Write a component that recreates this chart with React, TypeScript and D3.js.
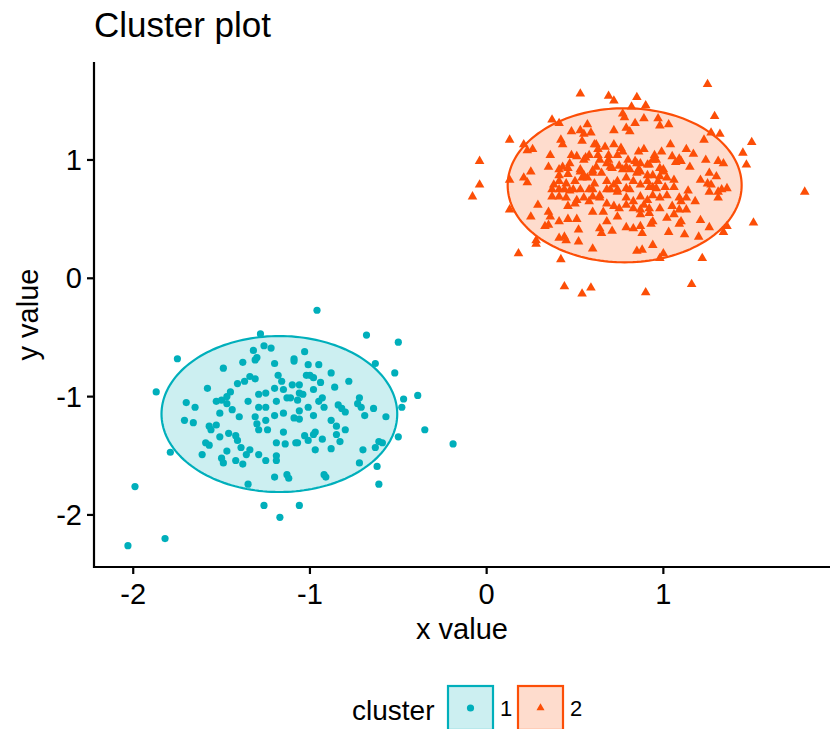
import React from 'react';
import * as d3 from 'd3';

// axis setup
const xTicks = [-2, -1, 0, 1];
const yTicks = [-2, -1, 0, 1];
const xDomain = [-2.222, 1.943];
const yDomain = [-2.44, 1.828];

const clusterNames = ['1', '2'];
const clusterColors = ['#00AFBB', '#FC4E07'];

// cluster 1 (circles)
const cluster1: [number, number][] = [
  [-1.28, -0.47], [-1.75, -0.68], [-1.87, -0.96], [-1.32, -0.61], [-1.26, -0.57], [-1.22, -0.59], [-1.30, -0.67],
  [-1.31, -0.69], [-1.38, -0.71], [-1.20, -0.72], [-1.49, -0.76], [-1.18, -0.82], [-1.16, -0.87], [-1.34, -0.83],
  [-1.31, -0.85], [-1.37, -0.87], [-1.41, -0.89], [-1.58, -0.93], [-1.45, -0.96], [-1.47, -1.00], [-1.29, -0.98],
  [-1.25, -0.97], [-1.20, -0.93], [-1.15, -0.94], [-1.70, -1.05], [-1.65, -1.09], [-1.53, -1.04], [-1.50, -1.03],
  [-1.47, -1.06], [-1.35, -1.04], [-1.29, -1.09], [-1.25, -1.09], [-1.19, -1.04], [-1.13, -1.01], [-1.51, -1.14],
  [-1.44, -1.11], [-1.40, -1.17], [-1.31, -1.17], [-1.71, -1.20], [-1.66, -1.22], [-1.57, -1.25], [-1.53, -1.24],
  [-1.30, -1.23], [-1.25, -1.20], [-1.20, -1.16], [-1.15, -1.14],
  [-0.96, -0.27], [-0.68, -0.48], [-0.50, -0.54], [-1.03, -0.62], [-1.09, -0.68], [-1.09, -0.70], [-1.01, -0.73],
  [-0.95, -0.73], [-0.63, -0.72], [-0.88, -0.80], [-0.52, -0.80], [-1.02, -0.82], [-1.00, -0.82], [-0.98, -0.84],
  [-0.94, -0.88], [-0.78, -0.87], [-1.10, -0.90], [-1.06, -0.90], [-0.86, -0.92], [-0.98, -0.94], [-1.06, -0.97],
  [-1.04, -0.98], [-1.11, -1.01], [-1.07, -1.03], [-0.93, -1.01], [-0.95, -1.04], [-0.72, -1.01], [-0.73, -1.06],
  [-0.71, -1.09], [-0.39, -0.99], [-0.47, -1.02], [-0.48, -1.09], [-0.84, -1.07], [-0.82, -1.10], [-0.80, -1.13],
  [-0.92, -1.09], [-1.01, -1.09], [-0.64, -1.10], [-1.06, -1.12], [-0.98, -1.16], [-0.69, -1.16], [-0.57, -1.17],
  [-1.09, -1.18], [-1.06, -1.19], [-0.88, -1.20], [-0.85, -1.25], [-0.80, -1.28], [-0.35, -1.28],
  [-1.79, -1.47], [-1.99, -1.76], [-2.03, -2.26], [-1.82, -2.20], [-1.26, -1.92], [-1.17, -2.02], [-1.35, -1.74],
  [-1.20, -1.68], [-1.13, -1.66], [-1.12, -1.69], [-1.61, -1.49], [-1.59, -1.39], [-1.57, -1.41], [-1.47, -1.46],
  [-1.50, -1.52], [-1.49, -1.56], [-1.42, -1.54], [-1.38, -1.57], [-1.39, -1.43], [-1.36, -1.49], [-1.34, -1.45],
  [-1.29, -1.49], [-1.25, -1.54], [-1.19, -1.50], [-1.19, -1.54], [-1.19, -1.39], [-1.14, -1.40], [-1.51, -1.34],
  [-1.46, -1.31], [-1.42, -1.33], [-1.41, -1.37], [-1.56, -1.28], [-1.29, -1.28], [-1.24, -1.28], [-1.15, -1.30],
  [-1.06, -1.92], [-0.61, -1.74], [-0.62, -1.59], [-0.72, -1.56], [-0.70, -1.45], [-0.63, -1.43], [-0.61, -1.38],
  [-0.59, -1.39], [-0.50, -1.34], [-0.19, -1.40], [-0.92, -1.66], [-0.91, -1.68], [-0.97, -1.45], [-0.88, -1.44],
  [-0.93, -1.36], [-0.83, -1.38], [-0.85, -1.32], [-1.03, -1.33], [-1.01, -1.37], [-0.98, -1.32], [-0.97, -1.30],
  [-1.08, -1.39], [-1.07, -1.39],
];

// cluster 2 (triangles)
const cluster2: [number, number][] = [
  [0.53, 1.56], [0.69, 1.54], [0.72, 1.50], [0.85, 1.53], [0.82, 1.45], [0.77, 1.39], [0.78, 1.36], [0.37, 1.34],
  [0.41, 1.31], [0.13, 1.17], [-0.04, 0.99], [-0.04, 0.79], [-0.08, 0.69], [0.21, 1.13], [0.23, 1.08], [0.26, 1.09],
  [0.57, 1.30], [0.53, 1.25], [0.55, 1.22], [0.59, 1.23], [0.48, 1.24], [0.54, 1.16], [0.72, 1.25], [0.79, 1.27],
  [0.81, 1.24], [0.84, 1.31], [0.42, 1.17], [0.43, 1.13], [0.62, 1.13], [0.67, 1.11], [0.72, 1.13], [0.76, 1.10],
  [0.77, 1.07], [0.36, 1.04], [0.35, 0.94], [0.48, 1.04], [0.51, 1.03], [0.56, 1.02], [0.55, 1.00], [0.63, 1.04],
  [0.64, 1.00], [0.69, 1.04], [0.74, 1.04], [0.80, 1.00], [0.84, 0.99], [0.43, 0.94], [0.46, 0.93], [0.47, 0.97],
  [0.60, 0.91], [0.62, 0.94], [0.68, 0.97], [0.71, 0.93], [0.75, 0.95], [0.81, 0.92], [0.25, 0.90], [0.41, 0.87],
  [0.46, 0.88], [0.53, 0.90], [0.54, 0.85], [0.57, 0.85], [0.21, 0.85], [0.23, 0.81], [0.41, 0.82], [0.45, 0.80],
  [0.50, 0.82], [0.61, 0.80], [0.68, 0.82], [0.74, 0.82], [0.79, 0.85], [0.83, 0.82], [0.13, 0.83], [0.37, 0.75],
  [0.41, 0.75], [0.47, 0.74], [0.53, 0.75], [0.60, 0.75], [0.68, 0.75], [0.74, 0.75], [0.81, 0.75], [0.86, 0.92],
  [0.86, 1.07],
  [1.25, 1.64], [0.90, 1.46], [1.29, 1.37], [0.89, 1.35], [0.97, 1.35], [0.98, 1.29], [1.03, 1.30], [1.27, 1.23],
  [1.32, 1.22], [1.23, 1.17], [1.50, 1.15], [1.45, 1.06], [1.47, 0.96], [0.89, 1.09], [1.04, 1.13], [1.13, 1.09],
  [1.17, 1.05], [0.99, 1.07], [0.95, 1.04], [0.94, 1.00], [0.92, 0.96], [1.05, 1.03], [1.09, 1.01], [1.07, 0.98],
  [1.10, 0.99], [1.24, 1.00], [1.31, 0.99], [1.34, 0.97], [1.15, 0.94], [0.87, 0.97], [0.91, 0.96], [1.00, 0.92],
  [0.94, 0.87], [0.98, 0.86], [1.02, 0.85], [1.06, 0.83], [1.26, 0.89], [1.30, 0.86], [1.21, 0.83], [1.25, 0.80],
  [1.27, 0.79], [1.36, 0.76], [1.33, 0.75], [0.91, 0.82], [0.92, 0.77], [0.96, 0.76], [1.01, 0.77], [1.06, 0.77],
  [1.14, 0.74], [1.80, 0.73],
  [0.13, 0.58], [0.29, 0.62], [0.35, 0.56], [0.25, 0.52], [0.33, 0.44], [0.35, 0.45], [0.41, 0.48], [0.46, 0.50],
  [0.51, 0.50], [0.52, 0.41], [0.28, 0.32], [0.28, 0.29], [0.41, 0.34], [0.44, 0.35], [0.45, 0.32], [0.52, 0.31],
  [0.60, 0.25], [0.18, 0.21], [0.42, 0.16], [0.44, -0.07], [0.59, -0.08], [0.54, -0.13], [0.60, 0.56], [0.64, 0.42],
  [0.65, 0.38], [0.71, 0.40], [0.68, 0.48], [0.79, 0.43], [0.83, 0.42], [0.85, 0.23], [0.37, 0.69], [0.41, 0.69],
  [0.45, 0.68], [0.50, 0.63], [0.55, 0.68], [0.58, 0.65], [0.64, 0.68], [0.68, 0.63], [0.72, 0.61], [0.79, 0.62],
  [0.83, 0.59],
  [1.51, 0.47], [1.36, 0.44], [1.34, 0.39], [1.26, 0.43], [1.21, 0.49], [1.22, 0.17], [1.16, -0.05], [0.90, -0.12],
  [1.20, 0.35], [1.12, 0.37], [1.03, 0.39], [0.94, 0.28], [1.00, 0.21], [0.98, 0.17], [0.94, 0.48], [0.93, 0.46],
  [1.10, 0.48], [1.09, 0.46], [0.88, 0.38], [0.87, 0.54], [1.02, 0.51], [1.06, 0.54], [1.13, 0.58], [0.89, 0.62],
  [0.92, 0.59], [0.98, 0.59], [1.05, 0.61], [1.10, 0.65], [1.13, 0.68], [1.18, 0.65], [1.31, 0.68], [0.88, 0.24],
  // dense core
  [0.61, 1.13], [0.63, 1.09], [0.69, 1.00], [0.70, 0.94], [0.65, 0.89], [0.85, 0.97], [0.85, 0.89], [0.96, 1.00],
  [0.98, 0.93], [1.00, 0.90], [0.53, 0.92], [0.55, 0.87], [0.60, 0.89], [0.49, 0.75], [0.44, 0.75], [0.72, 0.79],
  [0.70, 0.75], [0.74, 0.73], [0.79, 0.76], [0.87, 0.79], [0.94, 0.77], [0.97, 0.82], [0.58, 0.75], [0.60, 0.69],
  [0.64, 0.70], [0.79, 0.68], [0.83, 0.65], [0.87, 0.69], [0.91, 0.66], [0.94, 0.70], [0.98, 0.68], [1.02, 0.70],
  [1.09, 0.68], [0.75, 0.59], [0.66, 0.56], [0.87, 0.58], [0.92, 0.55], [1.09, 0.58], [0.51, 0.66], [0.46, 0.61],
  [0.36, 0.52], [0.74, 0.52], [0.87, 0.44], [1.31, 0.73], [1.26, 0.73], [0.41, 0.92], [0.38, 0.79], [0.58, 1.04],
  [0.77, 0.92], [0.79, 0.94], [0.87, 0.90], [0.91, 0.87],
];

// ellipse per cluster: centre x, centre y, radius x, radius y (data units)
const ellipse1 = [-1.173, -1.147, 0.667, 0.659];
const ellipse2 = [0.781, 0.786, 0.662, 0.651];

const width = 830;
const height = 729;
const margin = { top: 62, right: 0, bottom: 162, left: 94 };
const font = '"Liberation Sans", Arial, Helvetica, sans-serif';

const App: React.FC = () => {
  const xScale = d3.scaleLinear().domain(xDomain).range([margin.left, width - margin.right]);
  const yScale = d3.scaleLinear().domain(yDomain).range([height - margin.bottom, margin.top]);
  const x0 = margin.left;
  const y0 = height - margin.bottom;

  const ellipsePath = (e: number[]) => {
    const angles = d3.range(0, 2 * Math.PI, Math.PI / 90);
    return d3
      .line<number>()
      .x((a) => xScale(e[0] + e[2] * Math.cos(a)))
      .y((a) => yScale(e[1] + e[3] * Math.sin(a)))
      .curve(d3.curveLinearClosed)(angles) as string;
  };

  const triangle = d3.symbol(d3.symbolTriangle, 40)() as string;
  const triangleSmall = d3.symbol(d3.symbolTriangle, 28)() as string;

  return (
    <div style={{ position: 'absolute', left: 0, top: 0 }}>
      <svg width={width} height={height} style={{ display: 'block', background: '#fff' }} fontFamily={font}>
        {/* ellipses */}
        <path d={ellipsePath(ellipse1)} fill={clusterColors[0]} fillOpacity={0.2} stroke={clusterColors[0]} strokeWidth={2.2} />
        <path d={ellipsePath(ellipse2)} fill={clusterColors[1]} fillOpacity={0.2} stroke={clusterColors[1]} strokeWidth={2.2} />

        {/* points */}
        {cluster1.map((d, i) => (
          <circle key={'a' + i} cx={xScale(d[0])} cy={yScale(d[1])} r={3.6} fill={clusterColors[0]} />
        ))}
        {cluster2.map((d, i) => (
          <path key={'b' + i} d={triangle} transform={`translate(${xScale(d[0])},${yScale(d[1])})`} fill={clusterColors[1]} />
        ))}

        {/* axes */}
        <line x1={x0} x2={width} y1={y0} y2={y0} stroke="#000" strokeWidth={2.2} />
        <line x1={x0} x2={x0} y1={margin.top} y2={y0 + 1.1} stroke="#000" strokeWidth={2.2} />
        {xTicks.map((t) => (
          <g key={'x' + t}>
            <line x1={xScale(t)} x2={xScale(t)} y1={y0} y2={y0 + 7} stroke="#000" strokeWidth={2.2} />
            <text x={xScale(t)} y={y0 + 37} textAnchor="middle" fontSize={29} fill="#000">
              {t}
            </text>
          </g>
        ))}
        {yTicks.map((t) => (
          <g key={'y' + t}>
            <line x1={x0 - 7} x2={x0} y1={yScale(t)} y2={yScale(t)} stroke="#000" strokeWidth={2.2} />
            <text x={x0 - 12} y={yScale(t) + 10} textAnchor="end" fontSize={29} fill="#000">
              {t}
            </text>
          </g>
        ))}

        {/* titles */}
        <text x={94} y={37} fontSize={35} fill="#000">Cluster plot</text>
        <text x={(x0 + width) / 2} y={639} textAnchor="middle" fontSize={29} fill="#000">x value</text>
        <text transform={`translate(38,${(margin.top + y0) / 2}) rotate(-90)`} textAnchor="middle" fontSize={29} fill="#000">
          y value
        </text>

        {/* legend */}
        <text x={352} y={720} fontSize={28} fill="#000">cluster</text>
        {clusterNames.map((name, i) => {
          const bx = 448 + i * 70;
          return (
            <g key={'l' + name}>
              <rect x={bx} y={686} width={45} height={44} fill={clusterColors[i]} fillOpacity={0.2} stroke={clusterColors[i]} strokeWidth={2.2} />
              {i === 0 ? (
                <circle cx={bx + 22.5} cy={708} r={3.6} fill={clusterColors[i]} />
              ) : (
                <path d={triangleSmall} transform={`translate(${bx + 22.5},${708})`} fill={clusterColors[i]} />
              )}
              <text x={bx + 52} y={716} fontSize={22} fill="#000">{name}</text>
            </g>
          );
        })}
      </svg>
    </div>
  );
};

export default App;
